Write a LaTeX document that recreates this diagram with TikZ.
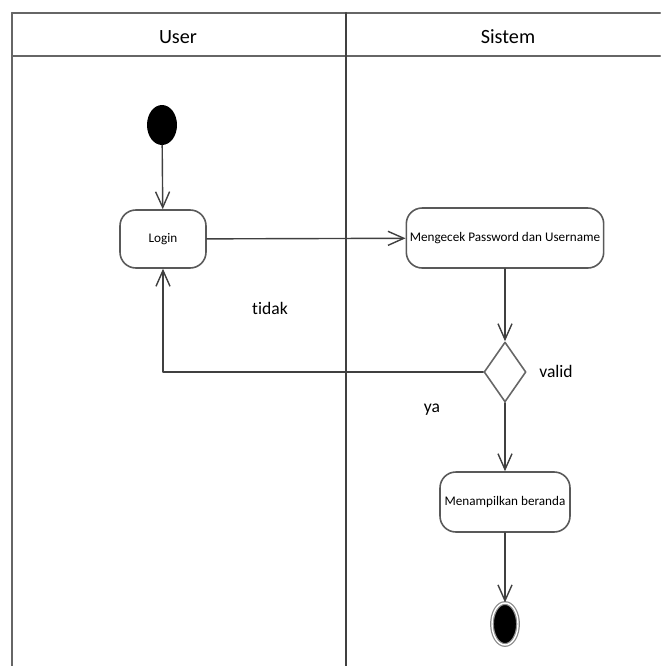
\documentclass[tikz,border=0pt]{standalone}
\usepackage{fontspec}
\setmainfont{Carlito}[Ligatures=NoCommon]
\usetikzlibrary{positioning,calc,arrows.meta,shapes.geometric}

\tikzset{
	aktivitas/.style={draw=black!65, line width=0.9pt, rounded corners=9pt, fill=white,
		font=\fontsize{7.5}{9}\selectfont, inner sep=2pt, align=center},
	keputusan/.style={diamond, draw=black!60, line width=0.9pt, fill=white,
		minimum width=0.84cm, minimum height=1.2cm, inner sep=0pt},
	awalst/.style={ellipse, fill=black, minimum width=0.6cm, minimum height=0.8cm, inner sep=0pt},
	akhirst/.style={ellipse, fill=black, draw=black!45, double=white, double distance=0.8pt,
		line width=0.7pt, minimum width=0.52cm, minimum height=0.84cm, inner sep=0pt},
	alur/.style={->, black!75, line width=0.8pt},
	garis/.style={black!60, line width=1.4pt},
	label/.style={font=\fontsize{10}{12}\selectfont}
}

\begin{document}
\begin{tikzpicture}[x=0.02cm,y=-0.02cm, line cap=round,line join=round,
		>={Straight Barb[length=9pt,width=8pt]}]
	
	\useasboundingbox (0,0) rectangle (660,666);
	
	% ---- swimlane frame
	\draw[garis] (12,13) -- (660,13);
	\draw[garis] (12,56) -- (660,56);
	\draw[garis] (12,13) -- (12,666);
	\draw[black!75, line width=1.2pt] (346,13) -- (346,666);
	
	\node[font=\fontsize{11.5}{13}\selectfont] (lajuUser) at (178,37) {User};
	\node[font=\fontsize{11.5}{13}\selectfont] (lajuSistem) at (508,37) {Sistem};
	
	% ---- nodes
	\node[awalst] (awal) at (162,125) {};
	\node[aktivitas, minimum width=1.72cm, minimum height=1.16cm] (login) at (163,239) {Login};
	\node[aktivitas, minimum width=3.9cm, minimum height=1.2cm] (cek) at (505,238) {Mengecek Password dan Username};
	\node[keputusan] (valid) at (505,372) {};
	\node[aktivitas, minimum width=2.6cm, minimum height=1.2cm] (beranda) at (505,502) {Menampilkan beranda};
	\node[akhirst] (akhir) at (505,624) {};
	
	% ---- labels
	\node[label] (lblTidak) at (270,308) {tidak};
	\node[label] (lblValid) at (556,371) {valid};
	\node[label] (lblYa) at (432,410) {ya};
	
	% ---- flows
	\draw[alur] (awal) -- (login);
	\draw[alur] (login) -- (cek);
	\draw[alur] (cek) -- (valid);
	\draw[alur] (valid.west) -| (login.south);
	\draw[alur] (valid) -- (beranda);
	\draw[alur] (beranda) -- (akhir);
	
\end{tikzpicture}
\end{document}
